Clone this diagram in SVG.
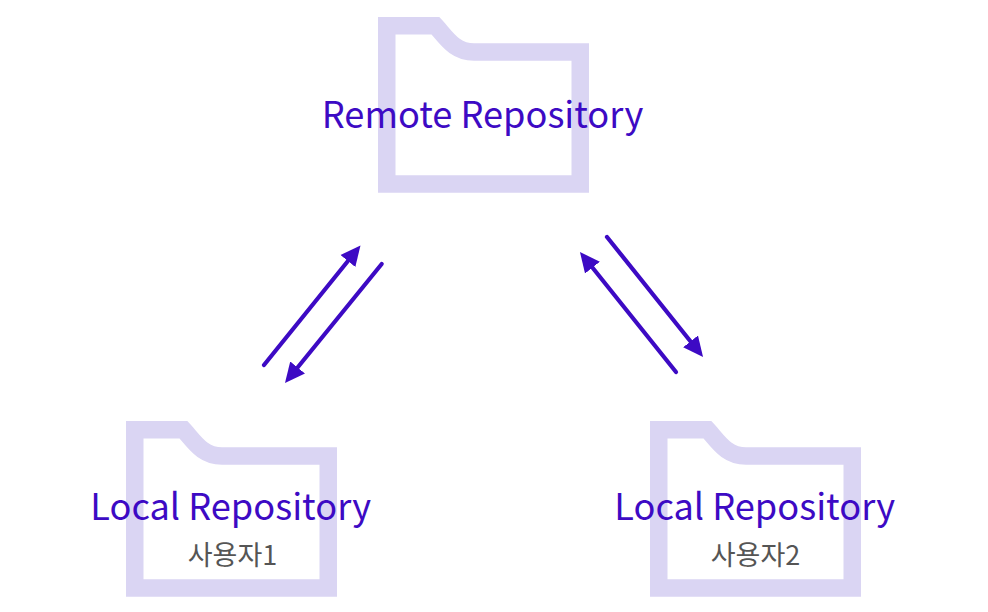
<svg xmlns="http://www.w3.org/2000/svg" width="988" height="612" viewBox="0 0 988 612">
<defs>
<marker id="head" markerUnits="userSpaceOnUse" markerWidth="22" markerHeight="22" refX="10" refY="10" orient="auto"><path d="M0 0.5L20 10L0 19.5Z" fill="#3d0ac4"/></marker>
<path id="folder" d="M8.75 167V8.75H57.5C68 20 76 35 96 35H202.25V167Z" fill="none" stroke="#dad5f3" stroke-width="17.5" stroke-miterlimit="10"/>
</defs>
<style>
.t{font-family:"Noto Sans CJK KR","Noto Sans",sans-serif;font-size:36.2px;fill:#3d0ac4;text-anchor:middle}
.s{font-family:"Noto Sans CJK KR","Noto Sans",sans-serif;font-size:27px;fill:#555;text-anchor:middle}
.c{stroke:#3d0ac4;stroke-width:4.2;stroke-linecap:round;fill:none;marker-end:url(#head)}
</style>
<rect width="988" height="612" fill="#fff"/>
<g id="remote"><use href="#folder" x="378" y="17"/><text class="t" x="482.5" y="127.5">Remote Repository</text></g>
<g id="local1"><use href="#folder" x="126" y="421"/><text class="t" x="230.7" y="519.5">Local Repository</text><text class="s" x="232.5" y="564.5">사용자1</text></g>
<g id="local2"><use href="#folder" x="650" y="421"/><text class="t" x="754.7" y="519.5">Local Repository</text><text class="s" x="755.5" y="564.5">사용자2</text></g>
<g id="connectors">
<path class="c" d="M264 365L354.2 253.3"/>
<path class="c" d="M381.7 264L291.3 375.2"/>
<path class="c" d="M676 372L586.2 259.8"/>
<path class="c" d="M607 237L696.8 349.2"/>
</g>
</svg>
